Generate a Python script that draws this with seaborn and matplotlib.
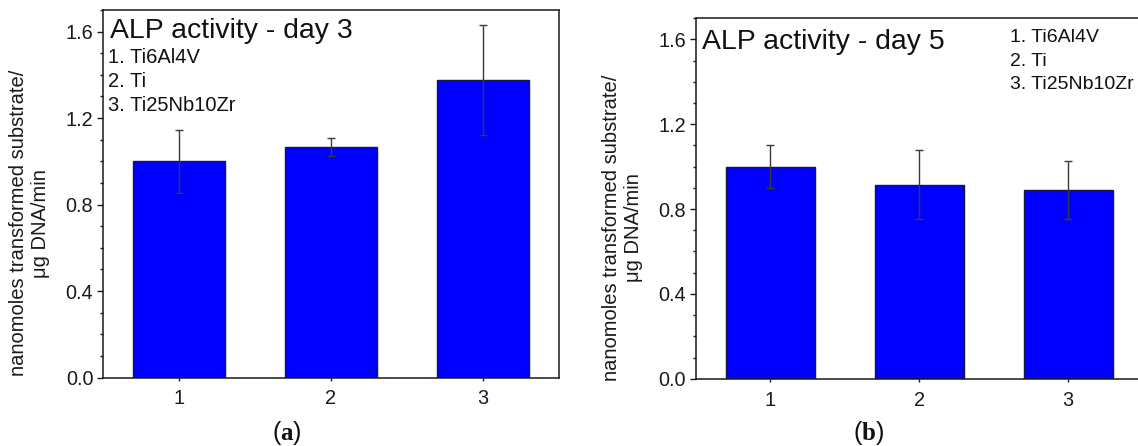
import numpy as np
import pandas as pd
import matplotlib
matplotlib.use("Agg")
import matplotlib.pyplot as plt
from matplotlib.ticker import MultipleLocator, FormatStrFormatter
import seaborn as sns

# ALP activity per substrate (mean and standard deviation)
groups = ["1", "2", "3"]
materials = ["Ti6Al4V", "Ti", "Ti25Nb10Zr"]
day3_mean = [1.000, 1.066, 1.376]
day3_err = [0.146, 0.043, 0.253]
day5_mean = [1.000, 0.915, 0.890]
day5_err = [0.101, 0.164, 0.138]

ylabel = "nanomoles transformed substrate/\nμg DNA/min"

sns.set_theme(style="ticks")
plt.rcParams["font.family"] = ["Liberation Sans", "DejaVu Sans"]
plt.rcParams.update({
    "axes.linewidth": 1.1,
    "axes.edgecolor": "#1a1a1a",
    "xtick.major.size": 2.0,
    "xtick.major.width": 1.0,
    "ytick.major.size": 4.0,
    "ytick.major.width": 1.0,
    "ytick.minor.size": 2.2,
    "ytick.minor.width": 1.0,
    "xtick.direction": "out",
    "ytick.direction": "out",
    "xtick.color": "#1a1a1a",
    "ytick.color": "#1a1a1a",
    "mathtext.fontset": "custom",
    "mathtext.rm": "Liberation Serif",
    "mathtext.bf": "Liberation Serif:bold",
})

W, H = 1138, 446
fig = plt.figure(figsize=(W / 100, H / 100), dpi=100)


def px_rect(left, right, top, bottom):
    return [left / W, (H - bottom) / H, (right - left) / W, (bottom - top) / H]


def panel(ax, means, errs, title, title_xy, legend_xy, legend_step,
          legend_size, label_x):
    df = pd.DataFrame({"group": groups, "value": means})
    sns.barplot(data=df, x="group", y="value", order=groups, width=0.6,
                color="#0000FF", saturation=1, edgecolor="#15154a",
                linewidth=1.0, errorbar=None, ax=ax, zorder=2)
    ax.errorbar(np.arange(len(groups)), means, yerr=errs, fmt="none",
                ecolor="#3a3a3a", elinewidth=1.0, capsize=3.2, capthick=1.0,
                zorder=3)
    ax.set_xlim(-0.5, 2.5)
    ax.set_ylim(0, 1.7)
    ax.set_yticks([0.0, 0.4, 0.8, 1.2, 1.6])
    ax.yaxis.set_major_formatter(FormatStrFormatter("%.1f"))
    ax.yaxis.set_minor_locator(MultipleLocator(0.1))
    ax.tick_params(axis="both", labelsize=14.3, colors="#1a1a1a")
    ax.tick_params(axis="y", which="major", pad=3)
    ax.tick_params(axis="x", which="major", pad=6.5)
    ax.set_xlabel("")
    ax.set_ylabel(ylabel, fontsize=14.5, linespacing=1.2, color="#1a1a1a")
    ax.yaxis.set_label_coords(label_x, 0.42)
    for s in ax.spines.values():
        s.set_visible(True)
    ax.text(title_xy[0], title_xy[1], title, transform=ax.transAxes,
            fontsize=20.4, ha="left", va="baseline", color="#111111")
    for i, (g, m) in enumerate(zip(groups, materials)):
        ax.text(legend_xy[0], legend_xy[1] - i * legend_step, f"{g}. {m}",
                transform=ax.transAxes, fontsize=legend_size, ha="left",
                va="baseline", color="#111111")


ax1 = fig.add_axes(px_rect(103, 559, 10, 377.5))
panel(ax1, day3_mean, day3_err, "ALP activity - day 3",
      (0.016, 0.925), (0.012, 0.855), 0.065, 14.5, -0.116)

ax2 = fig.add_axes(px_rect(695.7, 1142.7, 18.3, 378.7))
panel(ax2, day5_mean, day5_err, "ALP activity - day 5",
      (0.014, 0.914), (0.703, 0.933), 0.065, 14.0, -0.1186)

fig.text(287 / W, (H - 433) / H, r"($\mathbf{a}$)", fontsize=18,
         ha="center", va="center", color="#111111")
fig.text(869 / W, (H - 433) / H, r"($\mathbf{b}$)", fontsize=18,
         ha="center", va="center", color="#111111")

fig.savefig("out.png", dpi=100)
